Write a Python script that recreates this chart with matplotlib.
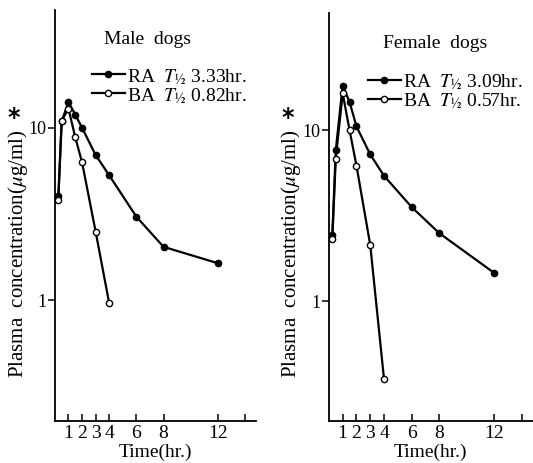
import matplotlib
matplotlib.use("Agg")
import matplotlib.pyplot as plt

plt.rcParams['font.family'] = ['Liberation Serif', 'DejaVu Serif']
plt.rcParams['mathtext.fontset'] = 'stix'

# sampling times (hr.)
male_ra_t = [0.25, 0.5, 1, 1.5, 2, 3, 4, 6, 8, 12]
male_ra = [4.0, 10.9, 14.1, 11.9, 10.0, 6.95, 5.3, 3.05, 2.04, 1.64]
male_ba_t = [0.25, 0.5, 1, 1.5, 2, 3, 4]
male_ba = [3.8, 11.0, 12.9, 8.8, 6.3, 2.5, 0.96]

female_ra_t = [0.25, 0.5, 1, 1.5, 2, 3, 4, 6, 8, 12]
female_ra = [2.45, 7.6, 18.2, 14.6, 10.5, 7.2, 5.4, 3.55, 2.5, 1.46]
female_ba_t = [0.25, 0.5, 1, 1.5, 2, 3, 4]
female_ba = [2.3, 6.8, 16.4, 10.0, 6.2, 2.13, 0.35]

xticks = [1, 2, 3, 4, 6, 8, 12, 14]
xticklabels = ['1', '2', '3', '4', '6', '8', '12', '']

panels = [
    ("Male  dogs", male_ra_t, male_ra, male_ba_t, male_ba, "3.33hr.", "0.82hr."),
    ("Female  dogs", female_ra_t, female_ra, female_ba_t, female_ba, "3.09hr.", "0.57hr."),
]

fig = plt.figure(figsize=(5.33, 4.63), dpi=100)
boxes = [[0.103, 0.091, 0.377, 0.887], [0.617, 0.091, 0.383, 0.880]]
title_pos = [(0.463, 0.929), (0.522, 0.926)]
leg_pos = [(0.184, 0.862), (0.19, 0.855)]
ylab_x = [0.033, 0.546]

ylabels = []
for i, (title, rt, ry, bt, by, rhalf, bhalf) in enumerate(panels):
    ax = fig.add_axes(boxes[i])
    ax.plot(rt, ry, '-o', color='black', lw=1.6, ms=4.5, mfc='black',
            label=r"RA  $T_{½}$ " + rhalf)
    ax.plot(bt, by, '-o', color='black', lw=1.6, ms=4.5, mfc='white', mew=1.0,
            label=r"BA  $T_{½}$ " + bhalf)
    ax.set_yscale('log')
    ax.set_ylim(0.2, 48)
    ax.set_xlim(0, 14.8)
    ax.set_yticks([1, 10])
    ax.set_yticklabels(['1', '10'])
    ax.minorticks_off()
    ax.set_xticks(xticks)
    ax.set_xticklabels(xticklabels)
    ax.tick_params(axis='x', direction='in', length=5, width=1.1, labelsize=14, pad=3)
    ax.tick_params(axis='y', direction='out', length=5, width=1.1, labelsize=13, pad=1)
    for s in ['top', 'right']:
        ax.spines[s].set_visible(False)
    for s in ['left', 'bottom']:
        ax.spines[s].set_linewidth(1.3)
    ax.set_xlabel("Time(hr.)", fontsize=14, labelpad=1)
    ax.text(title_pos[i][0], title_pos[i][1], title, transform=ax.transAxes,
            ha='center', va='center', fontsize=14)
    ax.legend(loc='upper left', bbox_to_anchor=leg_pos[i], frameon=False,
              fontsize=14, handlelength=1.7, handletextpad=0.1,
              labelspacing=0.0, borderpad=0, borderaxespad=0)
    t = fig.text(ylab_x[i], 0.452, r"Plasma  concentration($\mu$g/ml)",
                 rotation=90, ha='center', va='center', fontsize=15)
    ylabels.append(t)

# big asterisk at the end of each y label
fig.canvas.draw()
inv = fig.transFigure.inverted()
for t in ylabels:
    bb = t.get_window_extent()
    x0, y1 = inv.transform((bb.x0, bb.y1))
    fig.text(x0 + 0.004, y1 - 0.002, "*", fontsize=17, fontweight='bold',
             ha='left', va='bottom', family='DejaVu Sans')

fig.savefig("out.png", dpi=100)
